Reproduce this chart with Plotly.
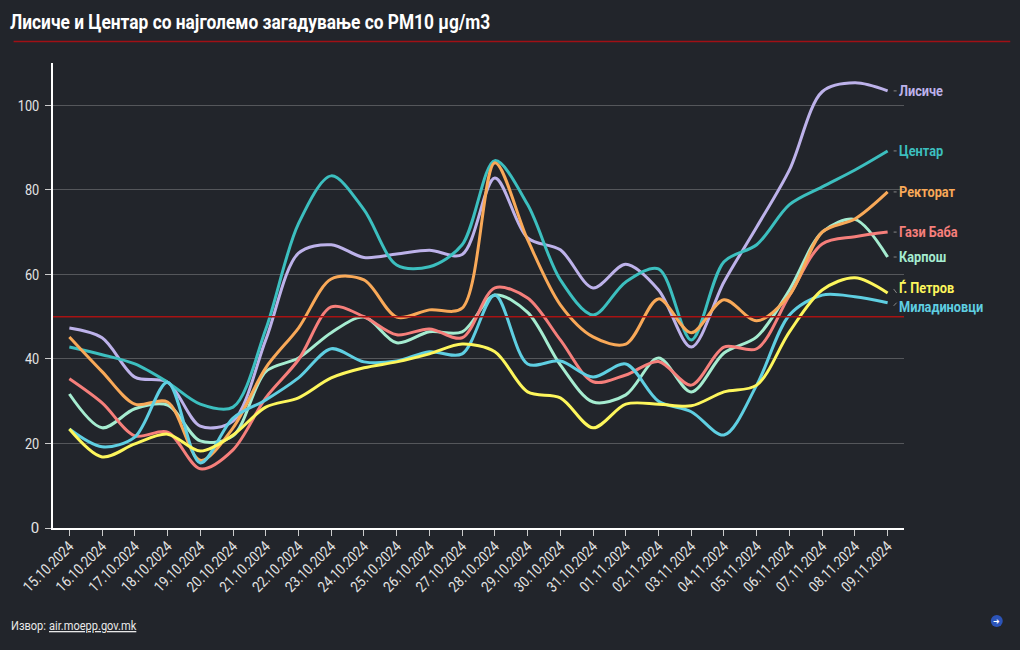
import plotly.graph_objects as go

dates = ["15.10.2024","16.10.2024","17.10.2024","18.10.2024","19.10.2024","20.10.2024","21.10.2024","22.10.2024","23.10.2024","24.10.2024","25.10.2024","26.10.2024","27.10.2024","28.10.2024","29.10.2024","30.10.2024","31.10.2024","01.11.2024","02.11.2024","03.11.2024","04.11.2024","05.11.2024","06.11.2024","07.11.2024","08.11.2024","09.11.2024"]

lisice = [47.3,45,35.7,34.5,24.1,25.3,44.5,65,67,64,64.8,65.7,64.7,82.8,68.6,65.8,56.8,62.4,56.3,42.8,58.2,71.2,84.7,103.2,105.3,103.4]
centar = [42.8,41,38.8,34.5,29.3,28.6,47,72,83.3,75.3,62.2,61.8,67,86.9,76.5,58.7,50.4,58.2,61.3,44.5,63,67,76.5,80.7,84.7,89.2]
karpos = [31.7,23.7,28.2,29.1,20.6,21.8,37,40.2,46.2,49.9,43.8,46.4,46.4,55.1,51,38.6,29.8,31.5,40.2,32.2,41.4,45.2,56.3,70,73,64.1]
gazi_baba = [35.3,29.6,21.8,22.7,14,18.5,30.8,39.8,52.3,50,45.7,47.1,45,56.8,54.4,44.5,34.6,36.2,39.4,33.8,42.8,42.4,55,67.2,68.9,70]
rektorat = [45.2,37,29.3,29.8,16,23.7,37.9,47.3,58.9,58.7,49.9,51.6,52,86.4,68.2,52.8,45.2,43.5,54.2,46.2,54,49,55.1,70,73.1,79.5]
miladinovci = [23.4,19.2,21.5,34.5,15.4,26,30.3,35.5,42.4,39.3,39.5,41.7,41.2,55.1,38.8,39.5,35.7,38.8,30,27.5,22,33.8,50.4,55.1,54.7,53.3]
petrov = [23.4,16.8,19.9,22.2,18.2,22,28.6,30.8,35.5,37.9,39.3,41.2,43.5,41.7,32.2,30.8,23.7,29.3,29.3,28.9,32.2,33.8,46.4,56.3,59.2,55.6]

series = [
    ("Лисиче", lisice, "#bdb2ea", 0),
    ("Центар", centar, "#3cbfbf", 0),
    ("Карпош", karpos, "#a5ecd0", 0),
    ("Гази Баба", gazi_baba, "#f67f7b", 0),
    ("Ректорат", rektorat, "#f9a958", 0),
    ("Миладиновци", miladinovci, "#5fcfe2", -4),
    ("Ѓ. Петров", petrov, "#fdf65c", 5),
]
title = "Лисиче и Центар со најголемо загадување со PM10 µg/m3"
threshold = 50
BG = "#22252b"
FONT = "Roboto, sans-serif"

fig = go.Figure()
for name, vals, col, _ in series:
    fig.add_trace(go.Scatter(x=dates, y=vals, name=name, mode="lines",
                             line=dict(color=col, width=3, shape="spline", smoothing=0.9)))

shapes = [
    dict(type="line", xref="paper", yref="y", x0=0, x1=1, y0=threshold, y1=threshold,
         line=dict(color="#a81313", width=1.5), layer="above"),
    dict(type="line", xref="paper", yref="paper", x0=(11-50.5)/853, x1=(1010-50.5)/853,
         y0=(528-41.5)/465, y1=(528-41.5)/465, line=dict(color="#a01015", width=1.5)),
    dict(type="circle", xref="paper", yref="paper", x0=(990.5-50.5)/853, x1=(1002.5-50.5)/853,
         y0=(528-627)/465, y1=(528-615)/465, fillcolor="#2c54b8", line=dict(width=0)),
]
annotations = [
    dict(text=f"<b>{title}</b>", xref="paper", yref="paper", x=(5.5-50.5)/853, y=(528-22.5)/465,
         xanchor="left", yanchor="middle", showarrow=False, font=dict(family=FONT, size=20.4, color="#ffffff")),
    dict(text="Извор:", xref="paper", yref="paper",
         x=(6-50.5)/853, y=(528-625)/465, xanchor="left", yanchor="middle", showarrow=False,
         font=dict(family=FONT, size=13, color="#e8e8e8")),
    dict(text="<u>air.moepp.gov.mk</u>", xref="paper", yref="paper",
         x=(44-50.5)/853, y=(528-625)/465, xanchor="left", yanchor="middle", showarrow=False,
         font=dict(family=FONT, size=13, color="#e8e8e8")),
    dict(text="➜", xref="paper", yref="paper", x=(996.5-50.5)/853, y=(528-621)/465, xanchor="center",
         yanchor="middle", showarrow=False, font=dict(size=8, color="#ffffff")),
]
for name, vals, col, shift in series:
    annotations.append(dict(text=f"<b>{name}</b>", x=25, y=vals[-1], xref="x", yref="y", xanchor="left",
                            yanchor="middle", xshift=9, yshift=shift, showarrow=False,
                            font=dict(family=FONT, size=15, color=col)))
    shapes.append(dict(type="line", xref="x", yref="y", xsizemode="pixel", ysizemode="pixel",
                       xanchor=25, yanchor=vals[-1], x0=6, x1=9, y0=shift*0.8, y1=shift*0.8 if shift == 0 else 0,
                       line=dict(color="#888888", width=1)))

fig.update_layout(
    width=1020, height=650, paper_bgcolor=BG, plot_bgcolor=BG, showlegend=False,
    margin=dict(l=50.5, r=116, t=63, b=122, pad=0),
    font=dict(family=FONT, color="#e4e4e4", size=14),
    shapes=shapes, annotations=annotations,
    xaxis=dict(type="category", range=[-0.5, 25.5], tickangle=-45, ticks="outside", ticklen=6, tickwidth=1,
               tickcolor="#cccccc", showline=True, linecolor="#ffffff", linewidth=1.5, showgrid=False,
               tickfont=dict(size=15, color="#e4e4e4"), ticklabelstandoff=-4),
    yaxis=dict(range=[0, 110], tickvals=[0,20,40,60,80,100], ticks="outside", ticklen=6, tickwidth=1,
               tickcolor="#cccccc", showline=True, linecolor="#ffffff", linewidth=1.5, gridcolor="#55575b",
               gridwidth=1, zeroline=False, tickfont=dict(size=15, color="#e4e4e4"), ticklabelstandoff=3),
)
narrow = """
document.body.style.margin='0';document.body.style.background='#22252b';document.body.style.overflow='hidden';
document.querySelectorAll('.main-svg text').forEach(function(t){
  var n=t.getComputedTextLength();
  if(n>12){
    if(getComputedStyle(t).textAnchor==='middle'){
      t.setAttribute('x',parseFloat(t.getAttribute('x'))-n/2);
      t.style.textAnchor='start';
    }
    t.setAttribute('textLength',(n*0.85).toFixed(1));t.setAttribute('lengthAdjust','spacingAndGlyphs');
  }
});
"""
fig.write_html("out.html", post_script=narrow, config={"displayModeBar": False})
